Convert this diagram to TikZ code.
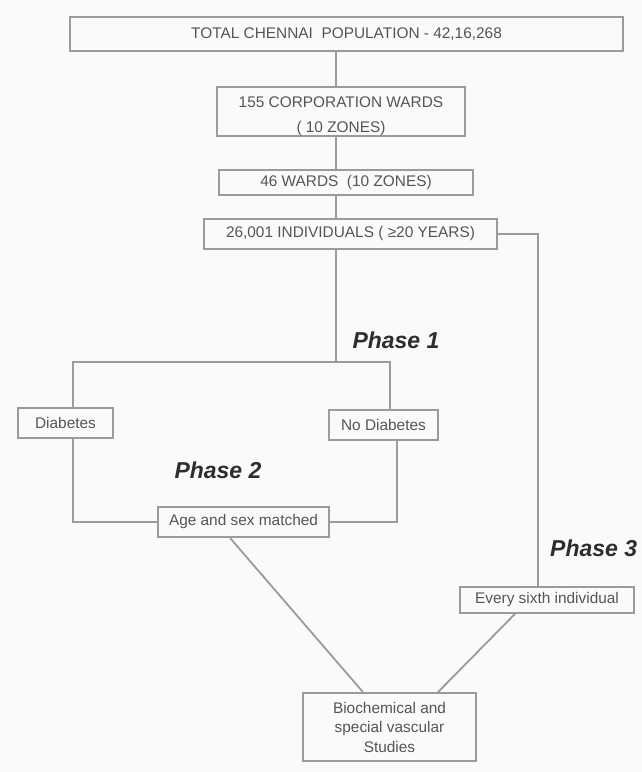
\documentclass[tikz,border=0pt]{standalone}
\usepackage{fontspec}
\setmainfont{Liberation Sans}
\definecolor{bgc}{RGB}{250,250,250}
\definecolor{lnc}{RGB}{155,155,155}
\definecolor{txc}{RGB}{85,85,85}
\definecolor{phc}{RGB}{45,45,45}
\tikzset{
  ln/.style={draw=lnc, line width=1.8pt},
  bx/.style={draw=lnc, line width=1.8pt, rectangle, inner sep=0pt, align=center,
    text=txc, font=\fontsize{15.4}{19.5}\selectfont},
  phase/.style={text=phc, inner sep=0pt, font=\fontsize{23}{27}\selectfont\bfseries\itshape}
}
\begin{document}
\begin{tikzpicture}[x=1pt,y=-1pt]
\fill[bgc] (0,0) rectangle (642,772);
% boxes
\node[bx, minimum width=553pt, minimum height=34pt] (top) at (346.5,34) {TOTAL CHENNAI\ \ POPULATION - 42,16,268};
\node[bx, minimum width=248pt, minimum height=49pt, font=\fontsize{15.4}{25}\selectfont] (c155) at (341,111.5) {\rule{0pt}{21pt}155 CORPORATION WARDS\\( 10 ZONES)};
\node[bx, minimum width=254pt, minimum height=25pt] (w46) at (346,182.5) {46 WARDS\ \ (10 ZONES)};
\node[bx, minimum width=293pt, minimum height=30pt] (ind) at (350.5,234) {26,001 INDIVIDUALS ( ≥20 YEARS)};
\node[bx, minimum width=95pt, minimum height=30pt] (diab) at (65.5,423) {Diabetes};
\node[bx, minimum width=109pt, minimum height=30pt] (nodiab) at (383.5,425) {No Diabetes};
\node[bx, minimum width=171pt, minimum height=30pt] (age) at (243.5,522) {Age and sex matched};
\node[bx, minimum width=174pt, minimum height=26pt] (sixth) at (547,600) {Every sixth individual};
\node[bx, minimum width=173pt, minimum height=68pt] (bio) at (389.5,727) {Biochemical and\\special vascular\\Studies};
% phase labels
\node[phase] (p1) at (396,340) {Phase 1};
\node[phase] (p2) at (218,470) {Phase 2};
\node[phase, anchor=west] (p3) at (550,548) {Phase 3};
% helper coordinates
\coordinate (spine) at (336,0);
\coordinate (tl) at (73,362);
\coordinate (tr) at (390,362);
\coordinate (bl) at (73,522);
\coordinate (br) at (397,522);
\coordinate (rx) at (538,0);
% spine
\draw[ln] (top.south -| spine) -- (c155.north -| spine);
\draw[ln] (c155.south -| spine) -- (w46.north -| spine);
\draw[ln] (w46.south -| spine) -- (ind.north -| spine);
\draw[ln] (ind.south -| spine) -- (spine |- tl);
% phase 2 frame
\draw[ln] (diab.north -| tl) -- (tl) -- (tr) -- (nodiab.north -| tr);
\draw[ln] (diab.south -| bl) -- (bl) -- (age.west);
\draw[ln] (nodiab.south -| br) -- (br) -- (age.east);
% phase 3 branch
\draw[ln] (ind.east) -- (ind.east -| rx) -- (sixth.north -| rx);
% to final box
\draw[ln] ([xshift=-13.5pt]age.south) -- ([xshift=-26.5pt]bio.north);
\draw[ln] ([xshift=-32pt]sixth.south) -- ([xshift=48.5pt]bio.north);
\end{tikzpicture}
\end{document}
